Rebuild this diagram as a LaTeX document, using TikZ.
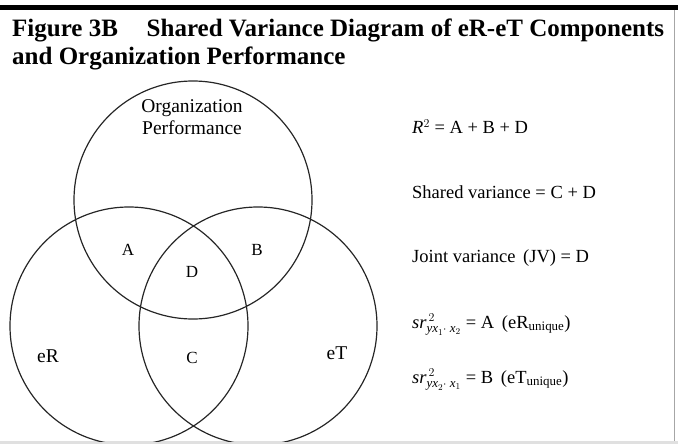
\documentclass[tikz,border=0pt]{standalone}
\usepackage{amsmath}
\usepackage{fontspec}
\setmainfont{Liberation Serif}
\usepackage{tikz}
\usetikzlibrary{positioning}

\begin{document}
\begin{tikzpicture}[x=1pt, y=-1pt,
  venn/.style={draw=black!85, line width=1.2pt, circle, minimum size=238pt, inner sep=0pt},
  lbl/.style={font=\fontsize{17}{20}\selectfont, inner sep=0pt},
  big/.style={font=\fontsize{19.5}{22}\selectfont},
  eqn/.style={font=\fontsize{18.5}{21}\selectfont, anchor=west, inner sep=0pt},
  ttl/.style={font=\fontsize{25}{28}\selectfont\bfseries, anchor=base west, inner sep=0pt}]
  \useasboundingbox (0,0) rectangle (678,444);
  % frame
  \fill[black] (0,5) rectangle (678,10);
  \fill[black!12] (0,441) rectangle (678,444);
  \draw[black!35, line width=0.8pt] (674,10) -- (674,441);
  % title
  \node[ttl] (title)  at (12,37) {Figure 3B\hspace{0.9em} Shared Variance Diagram of eR-eT Components};
  \node[ttl] (title2) at (12,65) {and Organization Performance};
  % the three circles
  \begin{scope}
    \clip (0,10) rectangle (674,441);
    \node[venn] (org) at (193,200) {};
    \node[venn] (er)  at (129,326) {};
    \node[venn] (et)  at (258,326) {};
  \end{scope}
  % region labels
  \node[lbl, big, align=center] (orgname) at (192,117) {Organization\\Performance};
  \node[lbl] (a)  at (128,250) {A};
  \node[lbl] (b)  at (257,250) {B};
  \node[lbl] (d)  at (192,272) {D};
  \node[lbl] (c)  at (192,358) {C};
  \node[lbl, big] (ername) at (48,356) {eR};
  \node[lbl, big] (etname) at (337,353) {eT};
  % equations
  \node[eqn] (rsq)    at (412,127) {\textit{R}$^2$ = A + B + D};
  \node[eqn] (shared) at (412,192) {Shared variance = C + D};
  \node[eqn] (joint)  at (412,258) {Joint variance\, (JV) = D};
  \node[eqn] (uniqr)  at (412,325) {$\textit{sr}^{\,2}_{\textit{yx}_1\cdot\;\textit{x}_2}$ = A\,\ (eR$_{\text{unique}}$)};
  \node[eqn] (uniqt)  at (412,380) {$\textit{sr}^{\,2}_{\textit{yx}_2\cdot\;\textit{x}_1}$ = B\,\ (eT$_{\text{unique}}$)};
\end{tikzpicture}
\end{document}
